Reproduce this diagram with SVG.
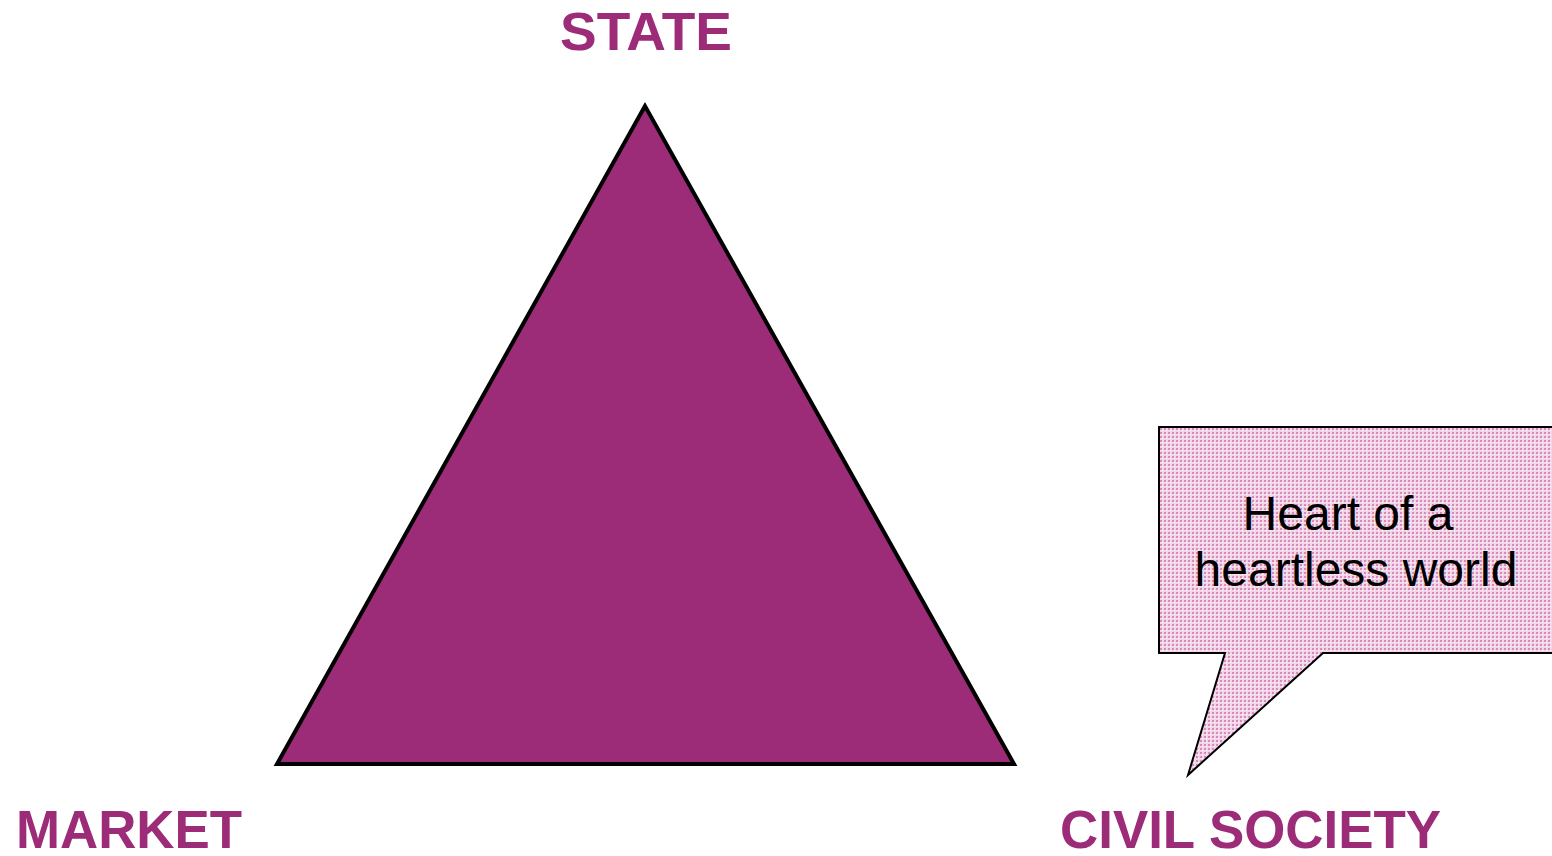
<svg xmlns="http://www.w3.org/2000/svg" width="1552" height="856" viewBox="0 0 1552 856">
<defs>
<pattern id="dots" width="4" height="4" patternUnits="userSpaceOnUse">
<rect width="4" height="4" fill="#f1d6e7"/>
<rect x="0" y="0" width="2" height="2" fill="#d98abd"/>
<rect x="2" y="2" width="1" height="1" fill="#ffffff"/>
</pattern>
</defs>
<style>
.lbl{font-family:"Liberation Sans",Arial,sans-serif;font-weight:bold;font-size:53px;fill:#9C2B78}
.call{font-family:"Liberation Sans",Arial,sans-serif;font-size:48px;fill:#000}
</style>
<rect width="1552" height="856" fill="#fff"/>
<g id="triangle">
<polygon points="645,106 277,764 1014,764" fill="#9C2B78" stroke="#000" stroke-width="4" stroke-linejoin="miter"/>
</g>
<g id="state"><text class="lbl" x="560" y="50" textLength="172" lengthAdjust="spacingAndGlyphs">STATE</text></g>
<g id="market"><text class="lbl" x="16" y="848" textLength="226" lengthAdjust="spacingAndGlyphs">MARKET</text></g>
<g id="civil"><text class="lbl" x="1060" y="848" textLength="381" lengthAdjust="spacingAndGlyphs">CIVIL SOCIETY</text></g>
<g id="callout">
<path d="M1159,427 L1553,427 L1553,653 L1323,653 L1188,775 L1225,653 L1159,653 Z" fill="url(#dots)" stroke="#000" stroke-width="2"/>
<text class="call" x="1348" y="530" text-anchor="middle">Heart of a</text>
<text class="call" x="1356" y="586" text-anchor="middle">heartless world</text>
</g>
</svg>
